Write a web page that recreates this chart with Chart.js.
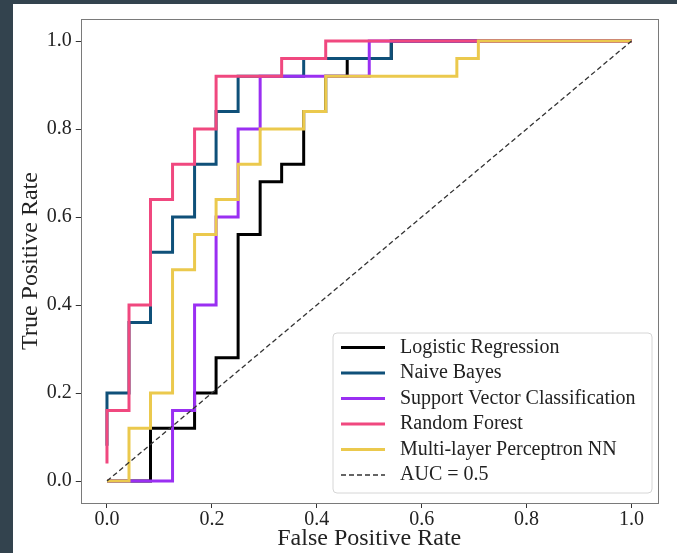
<!DOCTYPE html>
<html>
<head>
<meta charset="utf-8">
<script src="https://cdn.jsdelivr.net/npm/chart.js@4/dist/chart.umd.min.js"></script>
<style>
  html, body { margin: 0; padding: 0; background: #33434e; }
  #wrap { position: absolute; left: 0; top: 0; width: 677px; height: 553px; }
</style>
</head>
<body>
<div id="wrap"><canvas id="c" width="677" height="553"></canvas></div>
<script>
// ---- data ----
const seriesLabels = ['Logistic Regression', 'Naive Bayes', 'Support Vector Classification', 'Random Forest', 'Multi-layer Perceptron NN', 'AUC = 0.5'];
const seriesColors = ['#000000', '#0f5079', '#9a2ff2', '#f0487f', '#ebc94d', '#333333'];

const fprLogReg = [0, 0.083, 0.083, 0.167, 0.167, 0.208, 0.208, 0.25, 0.25, 0.292, 0.292, 0.333, 0.333, 0.375, 0.375, 0.375, 0.417, 0.417, 0.458, 0.458, 0.542, 0.542, 1.0];
const tprLogReg = [0, 0, 0.12, 0.12, 0.20, 0.20, 0.28, 0.28, 0.56, 0.56, 0.68, 0.68, 0.72, 0.72, 0.80, 0.84, 0.84, 0.92, 0.92, 0.96, 0.96, 1.0, 1.0];

const fprNB = [0, 0, 0.042, 0.042, 0.083, 0.083, 0.125, 0.125, 0.167, 0.167, 0.208, 0.208, 0.25, 0.25, 0.375, 0.375, 0.542, 0.542, 1.0];
const tprNB = [0.08, 0.20, 0.20, 0.36, 0.36, 0.52, 0.52, 0.60, 0.60, 0.72, 0.72, 0.84, 0.84, 0.92, 0.92, 0.96, 0.96, 1.0, 1.0];

const fprSVC = [0, 0.125, 0.125, 0.167, 0.167, 0.208, 0.208, 0.25, 0.25, 0.292, 0.292, 0.5, 0.5, 1.0];
const tprSVC = [0, 0, 0.16, 0.16, 0.40, 0.40, 0.60, 0.60, 0.80, 0.80, 0.92, 0.92, 1.0, 1.0];

const fprRF = [0, 0, 0.042, 0.042, 0.083, 0.083, 0.125, 0.125, 0.167, 0.167, 0.208, 0.208, 0.333, 0.333, 0.417, 0.417, 1.0];
const tprRF = [0.04, 0.16, 0.16, 0.40, 0.40, 0.64, 0.64, 0.72, 0.72, 0.80, 0.80, 0.92, 0.92, 0.96, 0.96, 1.0, 1.0];

const fprMLP = [0, 0.042, 0.042, 0.083, 0.083, 0.125, 0.125, 0.167, 0.167, 0.208, 0.208, 0.25, 0.25, 0.292, 0.292, 0.375, 0.375, 0.417, 0.417, 0.667, 0.667, 0.708, 0.708, 1.0];
const tprMLP = [0, 0, 0.12, 0.12, 0.20, 0.20, 0.48, 0.48, 0.56, 0.56, 0.64, 0.64, 0.72, 0.72, 0.80, 0.80, 0.84, 0.84, 0.92, 0.92, 0.96, 0.96, 1.0, 1.0];

const fprChance = [0, 1];
const tprChance = [0, 1];

const tickValues = [0, 0.2, 0.4, 0.6, 0.8, 1.0];
const tickLabels = ['0.0', '0.2', '0.4', '0.6', '0.8', '1.0'];

// ---- build ----
const SERIF = "'Liberation Serif', 'Times New Roman', serif";
const pairs = [[fprLogReg, tprLogReg], [fprNB, tprNB], [fprSVC, tprSVC], [fprRF, tprRF], [fprMLP, tprMLP], [fprChance, tprChance]];
const datasets = pairs.map((p, i) => ({
  label: seriesLabels[i],
  data: p[0].map((x, k) => ({ x: x, y: p[1][k] })),
  showLine: true,
  borderColor: seriesColors[i],
  backgroundColor: seriesColors[i],
  borderWidth: i === 5 ? 1.3 : 3,
  borderDash: i === 5 ? [5, 3] : [],
  pointRadius: 0,
  tension: 0,
  borderJoinStyle: 'miter',
  order: pairs.length - i
}));

const bgPlugin = {
  id: 'bg',
  beforeDraw(chart) {
    const ctx = chart.ctx;
    ctx.save();
    ctx.fillStyle = '#33434e';
    ctx.fillRect(0, 0, chart.width, chart.height);
    ctx.fillStyle = '#ffffff';
    ctx.fillRect(13, 4, chart.width - 13, chart.height - 4);
    ctx.restore();
  }
};

const framePlugin = {
  id: 'frame',
  afterDatasetsDraw(chart) {
    const a = chart.chartArea, ctx = chart.ctx;
    ctx.save();
    ctx.strokeStyle = '#7a7a7a';
    ctx.lineWidth = 1;
    ctx.strokeRect(Math.round(a.left) + 0.5, Math.round(a.top) + 0.5, Math.round(a.right - a.left), Math.round(a.bottom - a.top));
    ctx.restore();
  }
};

const legendPlugin = {
  id: 'innerLegend',
  afterDraw(chart) {
    const ctx = chart.ctx;
    const x0 = 333, y0 = 333, w = 319, h = 160, r = 4;
    ctx.save();
    ctx.beginPath();
    ctx.moveTo(x0 + r, y0);
    ctx.lineTo(x0 + w - r, y0);
    ctx.quadraticCurveTo(x0 + w, y0, x0 + w, y0 + r);
    ctx.lineTo(x0 + w, y0 + h - r);
    ctx.quadraticCurveTo(x0 + w, y0 + h, x0 + w - r, y0 + h);
    ctx.lineTo(x0 + r, y0 + h);
    ctx.quadraticCurveTo(x0, y0 + h, x0, y0 + h - r);
    ctx.lineTo(x0, y0 + r);
    ctx.quadraticCurveTo(x0, y0, x0 + r, y0);
    ctx.closePath();
    ctx.fillStyle = 'rgba(255,255,255,0.85)';
    ctx.fill();
    ctx.strokeStyle = '#d6d6d6';
    ctx.lineWidth = 1;
    ctx.stroke();
    const rowH = 25.5;
    chart.data.datasets.forEach((ds, i) => {
      const cy = 347.5 + i * rowH;
      ctx.beginPath();
      ctx.strokeStyle = ds.borderColor;
      ctx.lineWidth = ds.borderWidth;
      ctx.setLineDash(ds.borderDash || []);
      ctx.moveTo(341, cy);
      ctx.lineTo(385, cy);
      ctx.stroke();
      ctx.setLineDash([]);
      ctx.fillStyle = '#222222';
      ctx.font = '20px ' + SERIF;
      ctx.textBaseline = 'middle';
      ctx.textAlign = 'left';
      ctx.fillText(ds.label, 400, cy);
    });
    ctx.restore();
  }
};

new Chart(document.getElementById('c'), {
  type: 'scatter',
  data: { datasets: datasets },
  plugins: [bgPlugin, framePlugin, legendPlugin],
  options: {
    responsive: false,
    animation: false,
    layout: { padding: { left: 0, top: 19, right: 19.25, bottom: 0 } },
    plugins: { legend: { display: false }, tooltip: { enabled: false } },
    scales: {
      x: {
        type: 'linear', min: -0.05, max: 1.05,
        afterBuildTicks: s => { s.ticks = tickValues.map(v => ({ value: v })); },
        afterFit: s => { s.height = 50; },
        ticks: { callback: (v, i) => tickLabels[i], font: { family: SERIF, size: 20 }, color: '#222', padding: 0, maxRotation: 0, autoSkip: false },
        grid: { display: true, drawOnChartArea: false, drawTicks: true, tickLength: 5, color: '#333', tickWidth: 1 },
        border: { display: false },
        title: { display: true, text: 'False Positive Rate', font: { family: SERIF, size: 24 }, color: '#222', padding: { top: 0, bottom: 0 } }
      },
      y: {
        type: 'linear', min: -0.05, max: 1.05,
        afterBuildTicks: s => { s.ticks = tickValues.map(v => ({ value: v })); },
        afterFit: s => { s.width = 80.75; },
        ticks: { callback: (v, i) => tickLabels[i], font: { family: SERIF, size: 20 }, color: '#222', padding: 4, autoSkip: false },
        grid: { display: true, drawOnChartArea: false, drawTicks: true, tickLength: 5, color: '#333', tickWidth: 1 },
        border: { display: false },
        title: { display: true, text: 'True Positive Rate', font: { family: SERIF, size: 24 }, color: '#222', padding: { top: 16, bottom: 0 } }
      }
    }
  }
});
</script>
</body>
</html>
